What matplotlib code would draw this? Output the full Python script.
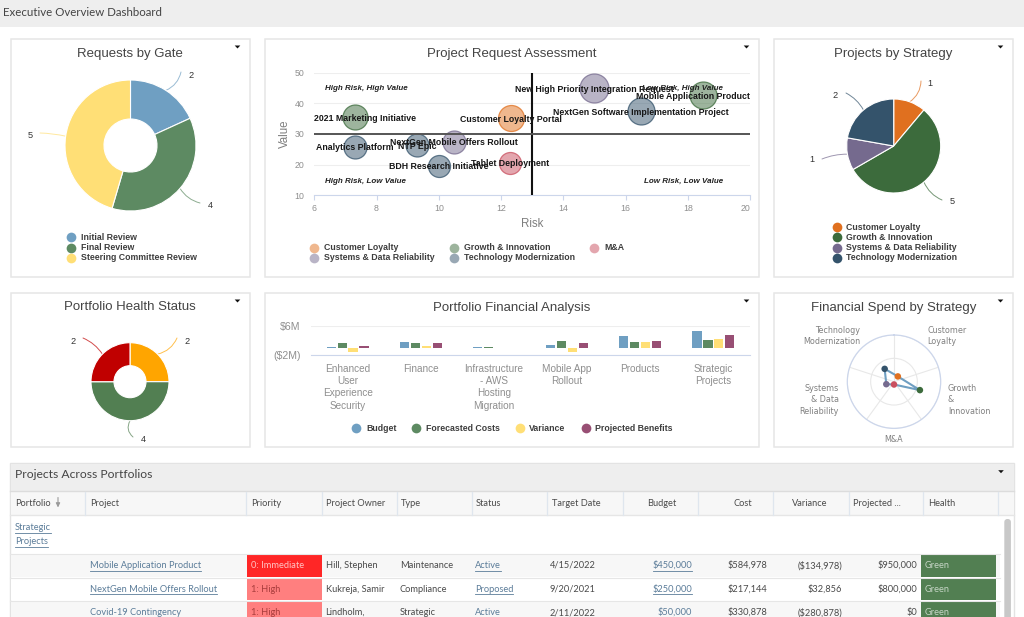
import numpy as np
import matplotlib
matplotlib.use("Agg")
import matplotlib.pyplot as plt
from matplotlib.colors import to_rgba
from matplotlib.patches import Rectangle, Polygon, FancyBboxPatch

plt.rcParams['font.family'] = ['Liberation Sans', 'DejaVu Sans']

W, H = 1024, 617

# requests by gate
gate_names = ["Initial Review", "Final Review", "Steering Committee Review"]
gate_counts = [2, 4, 5]

# projects by strategy
strategy_names = ["Customer Loyalty", "Growth & Innovation", "Systems & Data Reliability", "Technology Modernization"]
strategy_counts = [1, 5, 1, 2]

# health
health_counts = [2, 4, 2]

# bubble chart
bubble_names = ["Customer Loyalty Portal", "Mobile Application Product", "2021 Marketing Initiative",
                "Tablet Deployment", "New High Priority Integration Request", "NextGen Mobile Offers Rollout",
                "NextGen Software Implementation Project", "Analytics Platform", "NTP Epic", "BDH Research Initiative"]
bubble_risk = [12.32, 18.5, 7.3, 12.3, 15.0, 10.5, 16.5, 7.3, 9.3, 10.0]
bubble_value = [35.1, 42.7, 35.4, 20.6, 44.9, 27.5, 37.4, 25.9, 26.4, 19.6]
bubble_size = [13, 13.5, 12.5, 11, 14.5, 11.5, 13.5, 11.5, 11.5, 11]
bubble_group = ["Customer Loyalty", "Growth & Innovation", "Growth & Innovation", "M&A",
                "Systems & Data Reliability", "Systems & Data Reliability", "Technology Modernization",
                "Technology Modernization", "Technology Modernization", "Technology Modernization"]

# portfolio financials, $M
portfolios = ["Enhanced\nUser\nExperience\nSecurity", "Finance", "Infrastructure\n- AWS\nHosting\nMigration",
              "Mobile App\nRollout", "Products", "Strategic\nProjects"]
budget = [0.3, 1.8, 0.4, 0.85, 3.2, 4.65]
forecast = [1.3, 1.3, 0.35, 2.0, 1.65, 2.2]
variance = [-1.0, 0.6, 0.02, -1.1, 1.55, 2.45]
benefits = [0.6, 1.3, 0.0, 1.45, 1.85, 3.5]

# radar
radar_names = ["Customer Loyalty", "Growth & Innovation", "M&A", "Systems & Data Reliability", "Technology Modernization"]
radar_spend = [0.84, 3.5, 0.36, 1.04, 2.04]

# table
columns = ["Portfolio", "Project", "Priority", "Project Owner", "Type", "Status", "Target Date", "Budget", "Cost",
           "Variance", "Projected ...", "Health"]
t_project = ["Mobile Application Product", "NextGen Mobile Offers Rollout", "Covid-19 Contingency"]
t_priority = ["0: Immediate", "1: High", "1: High"]
t_owner = ["Hill, Stephen", "Kukreja, Samir", "Lindholm,"]
t_type = ["Maintenance", "Compliance", "Strategic"]
t_status = ["Active", "Proposed", "Active"]
t_date = ["4/15/2022", "9/20/2021", "2/11/2022"]
t_budget = ["$450,000", "$250,000", "$50,000"]
t_cost = ["$584,978", "$217,144", "$330,878"]
t_variance = ["($134,978)", "$32,856", "($280,878)"]
t_projected = ["$950,000", "$800,000", "$0"]
t_health = ["Green", "Green", "Green"]

BLUE, GREEN, YELLOW, PLUM = "#6f9fc2", "#5d8a62", "#ffdf76", "#984f74"
S_ORANGE, S_GREEN, S_PURPLE, S_NAVY, S_RED = "#e0701f", "#3c6b3c", "#756a8e", "#34536b", "#c94f5f"
group_colors = {"Customer Loyalty": S_ORANGE, "Growth & Innovation": S_GREEN, "M&A": S_RED,
                "Systems & Data Reliability": S_PURPLE, "Technology Modernization": S_NAVY}
TITLE = "#444444"
AXIS = "#ccd6eb"
TICK = "#8f8f8f"
LINK = "#5b7c99"
TABLE_FONT = "Lato"
TABLE_SIZE = 6.7

fig = plt.figure(figsize=(W / 100, H / 100), dpi=100, facecolor="white")

# whole-figure layer in pixel coordinates for panels, legends and the table
bg = fig.add_axes([0, 0, 1, 1], zorder=0)
bg.set_xlim(0, W)
bg.set_ylim(H, 0)
bg.axis("off")


def px_axes(left, top, right, bottom, **kw):
    ax = fig.add_axes([left / W, 1 - bottom / H, (right - left) / W, (bottom - top) / H], zorder=2, **kw)
    ax.patch.set_alpha(0)
    return ax


def panel(left, top, right, bottom, title, tx):
    bg.add_patch(Rectangle((left, top), right - left, bottom - top, fc="white", ec="#e6e6e6", lw=1.1))
    bg.text(tx, top + 14.5, title, ha="center", va="center", fontsize=9.5, color=TITLE)
    chevron(right - 12.5, top + 8)


def chevron(x, y):
    bg.add_patch(Polygon([(x - 2.8, y - 1.5), (x + 2.8, y - 1.5), (x, y + 1.5)], fc="#111111", ec="none", zorder=5))


def legend(names, colors, xs, ys, tx_gap=9.7):
    for name, c, x, y in zip(names, colors, xs, ys):
        bg.plot([x], [y], "o", ms=7, color=c, mec="none", zorder=3)
        bg.text(x + tx_gap, y, name, ha="left", va="center", fontsize=6.3, fontweight="bold", color="#3d3d3d")


def pie_chart(values, colors, cx, cy, r, inner, leaders):
    side = r * 1.02
    ax = px_axes(cx - side, cy - side, cx + side, cy + side)
    wedge = {"edgecolor": "white", "linewidth": 0.8}
    if inner:
        wedge["width"] = 1 - inner / r
    ax.pie(values, colors=colors, startangle=90, counterclock=False, radius=1, wedgeprops=wedge)
    ax.set_xlim(-1.02, 1.02)
    ax.set_ylim(-1.02, 1.02)
    # leader lines start on the middle of each slice
    edges = np.cumsum([0] + list(values)) / sum(values) * 2 * np.pi
    for i, (v, c) in enumerate(zip(values, colors)):
        mid = (edges[i] + edges[i + 1]) / 2
        start = (cx + r * np.sin(mid), cy - r * np.cos(mid))
        end_x, end_y, lab_x, lab_y, rad = leaders[i]
        bg.annotate("", xy=start, xytext=(end_x, end_y), zorder=1,
                    arrowprops=dict(arrowstyle="-", color=c, lw=0.7, alpha=0.7, shrinkA=0, shrinkB=0,
                                    connectionstyle=f"arc3,rad={rad}"))
        bg.text(lab_x, lab_y, str(v), ha="center", va="center", fontsize=6.6, color="#333333")


bg.add_patch(Rectangle((0, 0), W, 27, fc="#eeeeee", ec="none"))
bg.text(3, 12, "Executive Overview Dashboard", ha="left", va="center", fontsize=8.3, color="#444444",
        family=[TABLE_FONT, "DejaVu Sans"])

panel(11, 39, 250, 277, "Requests by Gate", 130)
panel(265, 39, 759, 277, "Project Request Assessment", 512)
panel(774, 39, 1013, 277, "Projects by Strategy", 893.5)
panel(11, 293, 250, 447, "Portfolio Health Status", 130)
panel(265, 293, 759, 447, "Portfolio Financial Analysis", 512)
panel(774, 293, 1013, 447, "Financial Spend by Strategy", 893.5)

# donuts and pie
pie_chart(gate_counts, [BLUE, GREEN, YELLOW], 130.5, 145.5, 65.5, 26.5,
          [(181, 72, 191, 75, -0.25), (200, 203, 210, 205, -0.2), (40, 133, 30, 136, -0.05)])
pie_chart(strategy_counts, [S_ORANGE, S_GREEN, S_PURPLE, S_NAVY], 893.7, 146, 47, 0,
          [(921, 81, 930, 84, -0.25), (942, 200, 952, 202, -0.2), (822, 159, 812, 160, -0.1), (846, 93, 835, 95, -0.15)])
pie_chart(health_counts, ["#ffa500", "#527f52", "#c00000"], 130, 381.7, 39, 16,
          [(177, 338, 187, 341, -0.25), (133, 437, 143, 439, -0.4), (83, 338, 73, 341, -0.15)])

legend(gate_names, [BLUE, GREEN, YELLOW], [71, 71, 71], [237.3, 247.7, 258])
legend(strategy_names, [S_ORANGE, S_GREEN, S_PURPLE, S_NAVY], [836.7] * 4, [227, 237.3, 247.5, 258])

# bubble chart
ax = px_axes(314.3, 72.7, 750, 195.3)
ax.set_xlim(6, 20)
ax.set_ylim(10, 50)
for s in ["top", "right", "left"]:
    ax.spines[s].set_visible(False)
ax.spines["bottom"].set_color(AXIS)
ax.set_xticks(range(6, 21, 2))
ax.set_yticks(range(10, 51, 10))
ax.tick_params(axis="x", colors=TICK, labelsize=6.3, length=3.5, width=0.8, color=AXIS, pad=2.5)
ax.tick_params(axis="y", colors=TICK, labelsize=6.3, length=0, pad=7)
ax.xaxis.get_ticklabels()[-1].set_ha("right")
ax.grid(axis="y", color="#eeeeee", lw=0.8)
ax.set_axisbelow(True)
ax.set_xlabel("Risk", fontsize=8.3, color="#7f7f7f", labelpad=4)
ax.set_ylabel("Value", fontsize=8.3, color="#7f7f7f", labelpad=3)
for i, name in enumerate(bubble_names):
    c = group_colors[bubble_group[i]]
    d = bubble_size[i] * 2 * 0.72
    ax.scatter(bubble_risk[i], bubble_value[i], s=d * d, facecolor=to_rgba(c, 0.5), edgecolor=to_rgba(c, 0.75),
               linewidth=0.9, zorder=3, clip_on=False)
ax.axvline(13, color="#111111", lw=1.5, zorder=4)
ax.axhline(30, color="#555555", lw=1.4, zorder=4)
# two labels get pushed back inside the plot area
label_shift = {"Mobile Application Product": -10.6, "2021 Marketing Initiative": 10.3}
for name, x, y in zip(bubble_names, bubble_risk, bubble_value):
    ax.annotate(name, (x, y), xytext=(label_shift.get(name, 0), -1), textcoords="offset pixels", ha="center",
                va="center", fontsize=6.3, fontweight="bold", color="#161616", zorder=5, annotation_clip=False)
for txt, x, y, ha in [("High Risk, High Value", 6.34, 45, "left"), ("Low Risk, High Value", 19.14, 45, "right"),
                      ("High Risk, Low Value", 6.34, 14.6, "left"), ("Low Risk, Low Value", 19.14, 14.6, "right")]:
    ax.text(x, y, txt, ha=ha, va="center", fontsize=5.75, fontweight="bold", fontstyle="italic", color="#222222",
            zorder=5)

legend(["Customer Loyalty", "Growth & Innovation", "M&A", "Systems & Data Reliability", "Technology Modernization"],
       [to_rgba(group_colors[k], 0.5) for k in ["Customer Loyalty", "Growth & Innovation", "M&A",
                                                "Systems & Data Reliability", "Technology Modernization"]],
       [314, 454.3, 594.3, 314, 454.3], [247.7, 247.7, 247.7, 258, 258])

# grouped bars
ax = px_axes(311, 326.3, 750, 355.3)
ax.set_xlim(-0.5, 5.5)
ax.set_ylim(-2, 6)
x = np.arange(len(portfolios))
for j, (vals, c) in enumerate(zip([budget, forecast, variance, benefits], [BLUE, GREEN, YELLOW, PLUM])):
    ax.bar(x + (j - 1.5) * 0.15, vals, width=0.125, color=c, edgecolor="none", zorder=3)
for s in ["top", "right", "left"]:
    ax.spines[s].set_visible(False)
ax.spines["bottom"].set_color(AXIS)
ax.set_yticks([-2, 6])
ax.set_yticklabels(["($2M)", "$6M"])
ax.set_xticks(x)
ax.set_xticklabels(portfolios, linespacing=1.3)
ax.tick_params(axis="y", colors=TICK, labelsize=7.6, length=0, pad=7.5)
ax.tick_params(axis="x", colors=TICK, labelsize=7.2, length=0, pad=6)
ax.grid(axis="y", color="#eeeeee", lw=0.8)
legend(["Budget", "Forecasted Costs", "Variance", "Projected Benefits"], [BLUE, GREEN, YELLOW, PLUM],
       [356.3, 416.3, 519.7, 585.7], [428.3] * 4)

# radar
rad_r = 46.7
ax = px_axes(894 - rad_r, 381.7 - rad_r, 894 + rad_r, 381.7 + rad_r, projection="polar")
ax.set_theta_zero_location("N")
ax.set_theta_direction(-1)
theta = np.deg2rad(36 + 72 * np.arange(len(radar_names)))
ax.set_xticks(np.deg2rad(72 * np.arange(5)))
ax.set_xticklabels([])
ax.set_ylim(0, 6)
ax.set_yticks([3, 6])
ax.set_yticklabels([])
ax.grid(color="#e8e8e8", lw=0.8)
ax.spines["polar"].set_color(AXIS)
ax.spines["polar"].set_linewidth(0.9)
ax.plot(np.append(theta, theta[0]), radar_spend + radar_spend[:1], color=BLUE, lw=1.5, zorder=3)
ax.scatter(theta, radar_spend, s=22, c=[group_colors[n] for n in radar_names], zorder=4, linewidths=0)
for txt, tx, ty, ha in [("Technology\nModernization", 860, 335.7, "right"), ("Customer\nLoyalty", 927.7, 335.7, "left"),
                        ("Growth\n&\nInnovation", 948, 400, "left"), ("Systems\n& Data\nReliability", 839, 400, "right"),
                        ("M&A", 894, 440, "center")]:
    bg.text(tx, ty, txt, ha=ha, va="center", fontsize=5.8, color="#808080", linespacing=1.3, multialignment=ha,
            family=["DejaVu Sans"])

# table
bg.add_patch(Rectangle((10, 463), 1003.5, 160, fc="white", ec="#e3e3e3", lw=1))
bg.add_patch(Rectangle((10.5, 463.5), 1003, 27.5, fc="#eeeeee", ec="none"))
bg.plot([10, 1013.5], [491, 491], color="#dcdcdc", lw=1)
tf = dict(family=[TABLE_FONT, "DejaVu Sans"], va="center")
bg.text(15, 474.5, "Projects Across Portfolios", ha="left", fontsize=8.7, color="#444444", **tf)
chevron(1001, 471.7)
bg.add_patch(Rectangle((10.5, 491.5), 1003, 23.5, fc="#f7f7f7", ec="none"))
bg.plot([10, 1013.5], [515, 515], color="#e6e6e6", lw=1)
for bx in [85, 246, 322, 397, 472, 547, 623, 698, 773, 849, 923, 998]:
    bg.plot([bx, bx], [492, 515], color="#dfe6ee", lw=0.9)

head_x = [15, 90, 251, 326, 401, 476, 552, 676.7, 751.7, 827.3, 853, 928]
head_ha = ["left"] * 7 + ["right"] * 3 + ["left"] * 2
for name, hx, ha in zip(columns, head_x, head_ha):
    bg.text(hx, 503.3, name, ha=ha, fontsize=TABLE_SIZE, color="#4a4a4a", **tf)
bg.annotate("", xy=(58, 507.5), xytext=(58, 497.5), arrowprops=dict(arrowstyle="-|>,head_width=0.12,head_length=0.25",
                                                                  color="#9a9a9a", lw=0.8, shrinkA=0, shrinkB=0))

fig.canvas.draw()
renderer = fig.canvas.get_renderer()


def link(tx, ty, s, ha="left"):
    t = bg.text(tx, ty, s, ha=ha, fontsize=TABLE_SIZE, color=LINK, **tf)
    box = t.get_window_extent(renderer).transformed(bg.transData.inverted())
    bg.plot([box.x0, box.x1], [ty + 5, ty + 5], color=LINK, lw=0.6, clip_on=True)


link(15, 528, "Strategic")
link(15, 542, "Projects")

row_top = [554, 578, 601]
row_bot = [577, 600, 617]
row_y = [565.5, 589.3, 612.5]
row_bg = ["#f7f7f7", "white", "#f7f7f7"]
prio_fill = ["#ff2626", "#ff7f7f", "#ff7f7f"]
prio_text = ["#ffc4c4", "#a83c3c", "#a83c3c"]
for i in range(3):
    top, bot, y = row_top[i], row_bot[i], row_y[i]
    bg.add_patch(Rectangle((10.5, top), 989, bot - top, fc=row_bg[i], ec="none"))
    bg.add_patch(Rectangle((247, top), 74.5, bot - top, fc=prio_fill[i], ec="none", zorder=2))
    bg.add_patch(Rectangle((920.7, top), 75, bot - top, fc="#527f52", ec="none", zorder=2))
    bg.plot([10, 1000], [top - 0.5, top - 0.5], color="#e6e6e6", lw=0.8)
    link(89.5, y, t_project[i])
    bg.text(251, y, t_priority[i], ha="left", fontsize=TABLE_SIZE, color=prio_text[i], zorder=3, **tf)
    bg.text(325.5, y, t_owner[i], ha="left", fontsize=TABLE_SIZE, color="#4a4a4a", **tf)
    bg.text(400, y, t_type[i], ha="left", fontsize=TABLE_SIZE, color="#4a4a4a", **tf)
    link(475, y, t_status[i])
    bg.text(550, y, t_date[i], ha="left", fontsize=TABLE_SIZE, color="#4a4a4a", **tf)
    link(692.3, y, t_budget[i], ha="right")
    bg.text(767.3, y, t_cost[i], ha="right", fontsize=TABLE_SIZE, color="#4a4a4a", **tf)
    bg.text(842, y, t_variance[i], ha="right", fontsize=TABLE_SIZE, color="#4a4a4a", **tf)
    bg.text(917, y, t_projected[i], ha="right", fontsize=TABLE_SIZE, color="#4a4a4a", **tf)
    bg.text(925, y, t_health[i], ha="left", fontsize=TABLE_SIZE, color="#c5d5c5", zorder=3, **tf)

# scrollbar
bg.add_patch(FancyBboxPatch((1004.3, 519), 6.6, 110, boxstyle="round,pad=0,rounding_size=3", fc="#c8c8c8", ec="none"))

fig.savefig("out.png", dpi=100)
